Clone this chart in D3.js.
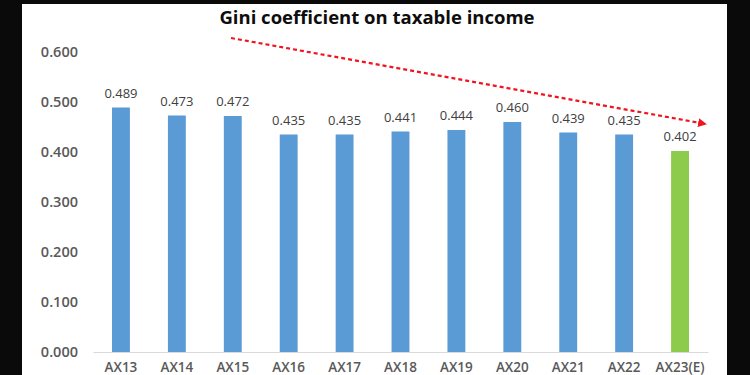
<!DOCTYPE html>
<html><head><meta charset="utf-8">
<script src="https://cdn.jsdelivr.net/npm/d3@7"></script>
<style>html,body{margin:0;padding:0;background:#000;}svg{display:block;}</style>
</head><body>
<svg id="c" width="750" height="375"></svg>
<script>
const categories = ["AX13","AX14","AX15","AX16","AX17","AX18","AX19","AX20","AX21","AX22","AX23(E)"];
const values = [0.489,0.473,0.472,0.435,0.435,0.441,0.444,0.460,0.439,0.435,0.402];
const yTicks = [0,0.1,0.2,0.3,0.4,0.5,0.6];
const title = "Gini coefficient on taxable income";

const svg = d3.select("#c");
svg.append("rect").attr("x",0).attr("y",0).attr("width",750).attr("height",375).attr("fill","#0a0a0a");
svg.append("rect").attr("x",22).attr("y",4).attr("width",705).attr("height",380).attr("fill","#fff");

const x = d3.scaleBand().domain(categories).range([93,708]).paddingInner(0.68).paddingOuter(0.34);
const y = d3.scaleLinear().domain([0,0.6]).range([352,52]);

// y axis labels
const ya = svg.append("g").attr("transform","translate(78,0)")
  .call(d3.axisLeft(y).tickValues(yTicks).tickFormat(d3.format(".3f")).tickSize(0).tickPadding(0));
ya.select(".domain").remove();
ya.selectAll("text").attr("font-family","Open Sans").attr("font-size",14.5).attr("font-weight",600).attr("fill","#595959");

// bars
svg.append("g").selectAll("rect").data(values).join("rect")
  .attr("x",(d,i)=>x(categories[i]))
  .attr("y",d=>y(d))
  .attr("width",x.bandwidth())
  .attr("height",d=>y(0)-y(d))
  .attr("fill",(d,i)=>i===categories.length-1?"#8dcb4c":"#5b9bd5");

// baseline
const xa = svg.append("g").attr("transform",`translate(0,${y(0)})`)
  .call(d3.axisBottom(x).tickSize(0).tickPadding(10.5));
xa.select(".domain").attr("stroke","#d9d9d9").attr("stroke-width",1.2);
xa.selectAll("text").attr("font-family","Open Sans").attr("font-size",13.5).attr("font-weight",600).attr("fill","#595959");

// value labels
svg.append("g").selectAll("text").data(values).join("text")
  .attr("x",(d,i)=>x(categories[i])+x.bandwidth()/2)
  .attr("y",d=>y(d)-10)
  .attr("text-anchor","middle")
  .attr("font-family","Open Sans").attr("font-size",13).attr("fill","#404040")
  .text(d=>d3.format(".3f")(d));

// title
svg.append("text").attr("x",377).attr("y",24).attr("text-anchor","middle")
  .attr("font-family","Open Sans").attr("font-weight",700).attr("font-size",18.5).attr("fill","#0d0d0d")
  .text(title);

// trend arrow
const defs = svg.append("defs");
defs.append("marker").attr("id","ah").attr("viewBox","0 0 10 10").attr("refX",9).attr("refY",5)
  .attr("markerWidth",4).attr("markerHeight",4).attr("orient","auto")
  .append("path").attr("d","M0,0L10,5L0,10Z").attr("fill","#f0141e");
svg.append("line").attr("x1",231).attr("y1",38).attr("x2",706).attr("y2",124)
  .attr("stroke","#f0141e").attr("stroke-width",2.2).attr("stroke-dasharray","4,3")
  .attr("marker-end","url(#ah)");
</script>
</body></html>
